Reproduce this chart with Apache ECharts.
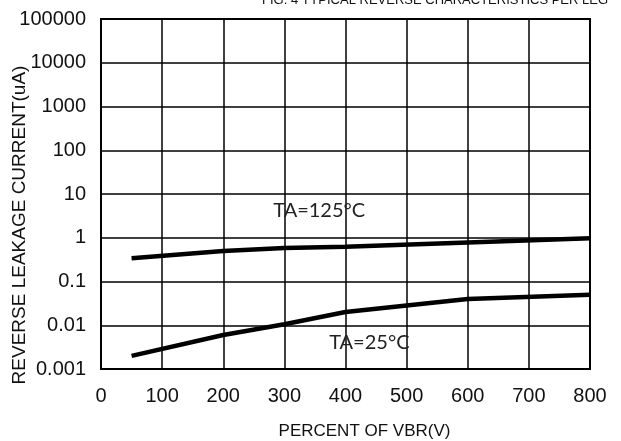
<!DOCTYPE html>
<html>
<head>
<meta charset="utf-8">
<script src="https://cdn.jsdelivr.net/npm/echarts@6/dist/echarts.min.js"></script>
<style>
html,body{margin:0;padding:0;background:#fff;}
#c{width:621px;height:441px;}
</style>
</head>
<body>
<div id="c"></div>
<script>
// ---- data ----
var titleText = 'FIG. 4 TYPICAL REVERSE CHARACTERISTICS PER LEG';
var xName = 'PERCENT OF VBR(V)';
var yName = 'REVERSE LEAKAGE CURRENT(uA)';
var xTicks = [0, 100, 200, 300, 400, 500, 600, 700, 800];
var yTicks = [0.001, 0.01, 0.1, 1, 10, 100, 1000, 10000, 100000];
var seriesNames = ['TA=125°C', 'TA=25°C'];
var x125 = [50, 200, 300, 400, 800];
var y125 = [0.34, 0.5, 0.58, 0.62, 0.97];
var x25 = [50, 200, 300, 400, 600, 800];
var y25 = [0.002, 0.006, 0.0105, 0.02, 0.04, 0.05];
var label125Pos = [357, 4.1];
var label25Pos = [439, 0.004];

function pairs(xs, ys) { return xs.map(function (x, i) { return [x, ys[i]]; }); }

var chart = echarts.init(document.getElementById('c'), null, {renderer: 'canvas'});
var axisFont = 'Liberation Sans, Arial, sans-serif';
var noteFont = 'Lato, Open Sans, sans-serif';

chart.setOption({
  animation: false,
  backgroundColor: '#ffffff',
  title: {
    text: titleText,
    left: 262,
    top: -6,
    padding: 0,
    textStyle: {fontFamily: axisFont, fontSize: 13, fontWeight: 'normal', color: '#111'}
  },
  grid: {
    left: 101, right: 31, top: 19, bottom: 72,
    outerBoundsMode: 'none', containLabel: false,
    show: true, borderColor: '#000', borderWidth: 2, backgroundColor: 'transparent'
  },
  xAxis: {
    type: 'value',
    min: xTicks[0], max: xTicks[xTicks.length - 1], interval: 100,
    name: xName, nameLocation: 'middle', nameGap: 54, nameMoveOverlap: false,
    nameTextStyle: {fontFamily: axisFont, fontSize: 17, color: '#111', padding: [0, 0, 0, 38]},
    axisLine: {show: true, lineStyle: {color: '#000', width: 2}},
    axisTick: {show: false},
    axisLabel: {margin: 17, fontFamily: axisFont, fontSize: 20, color: '#111'},
    splitLine: {show: true, lineStyle: {color: '#000', width: 1.5}}
  },
  yAxis: {
    type: 'log', logBase: 10,
    min: yTicks[0], max: yTicks[yTicks.length - 1], interval: 1,
    name: yName, nameLocation: 'middle', nameGap: 72, nameRotate: 90, nameMoveOverlap: false,
    nameTextStyle: {fontFamily: axisFont, fontSize: 19, color: '#111', padding: [0, 62, 0, 0]},
    axisLine: {show: true, lineStyle: {color: '#000', width: 2}},
    axisTick: {show: false},
    axisLabel: {
      margin: 15, fontFamily: axisFont, fontSize: 20, color: '#111',
      formatter: function (v) { return String(+(+v).toPrecision(1)); }
    },
    splitLine: {show: true, lineStyle: {color: '#000', width: 1.5}}
  },
  series: [
    {
      name: seriesNames[0], type: 'line', data: pairs(x125, y125),
      showSymbol: false, symbol: 'none',
      lineStyle: {color: '#000', width: 4.5}, z: 5,
      markPoint: {
        symbol: 'circle', symbolSize: 0,
        data: [{coord: label125Pos, value: seriesNames[0]}],
        label: {show: true, position: 'inside', formatter: '{c}', fontFamily: noteFont, fontSize: 20, color: '#222'}
      }
    },
    {
      name: seriesNames[1], type: 'line', data: pairs(x25, y25),
      showSymbol: false, symbol: 'none',
      lineStyle: {color: '#000', width: 4.5}, z: 5,
      markPoint: {
        symbol: 'circle', symbolSize: 0,
        data: [{coord: label25Pos, value: seriesNames[1]}],
        label: {show: true, position: 'inside', formatter: '{c}', fontFamily: noteFont, fontSize: 20, color: '#222'}
      }
    }
  ]
});
</script>
</body>
</html>
